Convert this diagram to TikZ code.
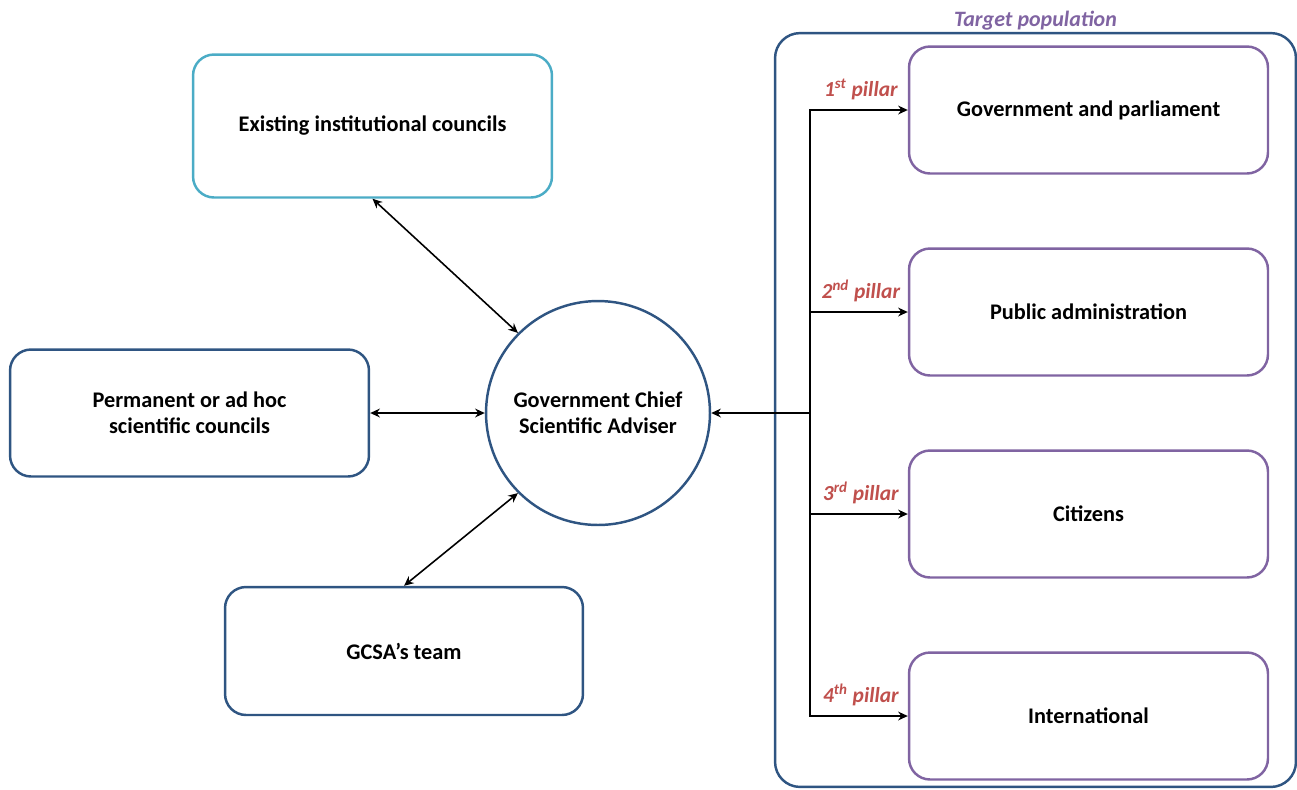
\documentclass[tikz,border=0pt]{standalone}
\usepackage{fontspec}
\setmainfont{Carlito}
\usetikzlibrary{arrows.meta}

\definecolor{navy}{RGB}{47,85,130}
\definecolor{teal}{RGB}{75,172,198}
\definecolor{lilac}{RGB}{128,100,162}
\definecolor{brick}{RGB}{192,80,77}

\begin{document}
\begin{tikzpicture}[x=0.02cm, y=-0.02cm,
		box/.style={draw, line width=1.4pt, rounded corners=0.42cm, fill=white,
			align=center, font=\fontsize{12.7}{15}\selectfont\bfseries,
			minimum width=7.18cm, minimum height=2.54cm},
		arr/.style={line width=0.9pt, -{Stealth[length=5.5pt,width=5pt]}},
		dbl/.style={arr, {Stealth[length=5.5pt,width=5pt]}-{Stealth[length=5.5pt,width=5pt]}},
		pillar/.style={above=2pt, text=brick, font=\fontsize{12.2}{14}\selectfont\bfseries\itshape},
	]
	\useasboundingbox (0, 0) rectangle (1297, 789);

	% target population frame
	\node[draw=navy, line width=1.4pt, rounded corners=0.5cm,
		minimum width=10.42cm, minimum height=15.08cm] (pop) at (1035.5, 410) {};
	\node[above=-2.5pt, text=lilac, font=\fontsize{12.5}{14}\selectfont\bfseries\itshape]
		(target) at (pop.north) {Target population};

	% adviser
	\node[draw=navy, line width=1.4pt, circle, minimum size=4.48cm, align=center,
		font=\fontsize{12.7}{15}\selectfont\bfseries] (gcsa) at (598, 413)
		{Government Chief\\Scientific Adviser};

	% left boxes
	\node[box, draw=teal, minimum height=2.86cm] (exist) at (372.5, 126) {Existing institutional councils};
	\node[box, draw=navy] (perm) at (189.5, 413) {Permanent or ad hoc\\scientific councils};
	\node[box, draw=navy, minimum width=7.16cm, minimum height=2.56cm] (team) at (404, 651) {GCSA's team};

	% pillars
	\node[box, draw=lilac] (p1) at (1088.5, 110) {Government and parliament};
	\node[box, draw=lilac] (p2) at (1088.5, 312) {Public administration};
	\node[box, draw=lilac] (p3) at (1088.5, 514) {Citizens};
	\node[box, draw=lilac] (p4) at (1088.5, 716) {International};

	% links
	\draw[dbl] (exist.south) -- (gcsa.135);
	\draw[dbl] (perm.east) -- (gcsa.west);
	\draw[dbl] (team.north) -- (gcsa.225);

	\coordinate (trunk) at (810, 413);
	\draw[arr] (trunk) -- (gcsa.east);
	\draw[arr] (trunk) |- (p1.west) node[pillar, pos=0.76] {1\textsuperscript{st} pillar};
	\draw[arr] (trunk) |- (p2.west) node[pillar, pos=0.76] {2\textsuperscript{nd} pillar};
	\draw[arr] (trunk) |- (p3.west) node[pillar, pos=0.76] {3\textsuperscript{rd} pillar};
	\draw[arr] (trunk) |- (p4.west) node[pillar, pos=0.76] {4\textsuperscript{th} pillar};
\end{tikzpicture}
\end{document}
